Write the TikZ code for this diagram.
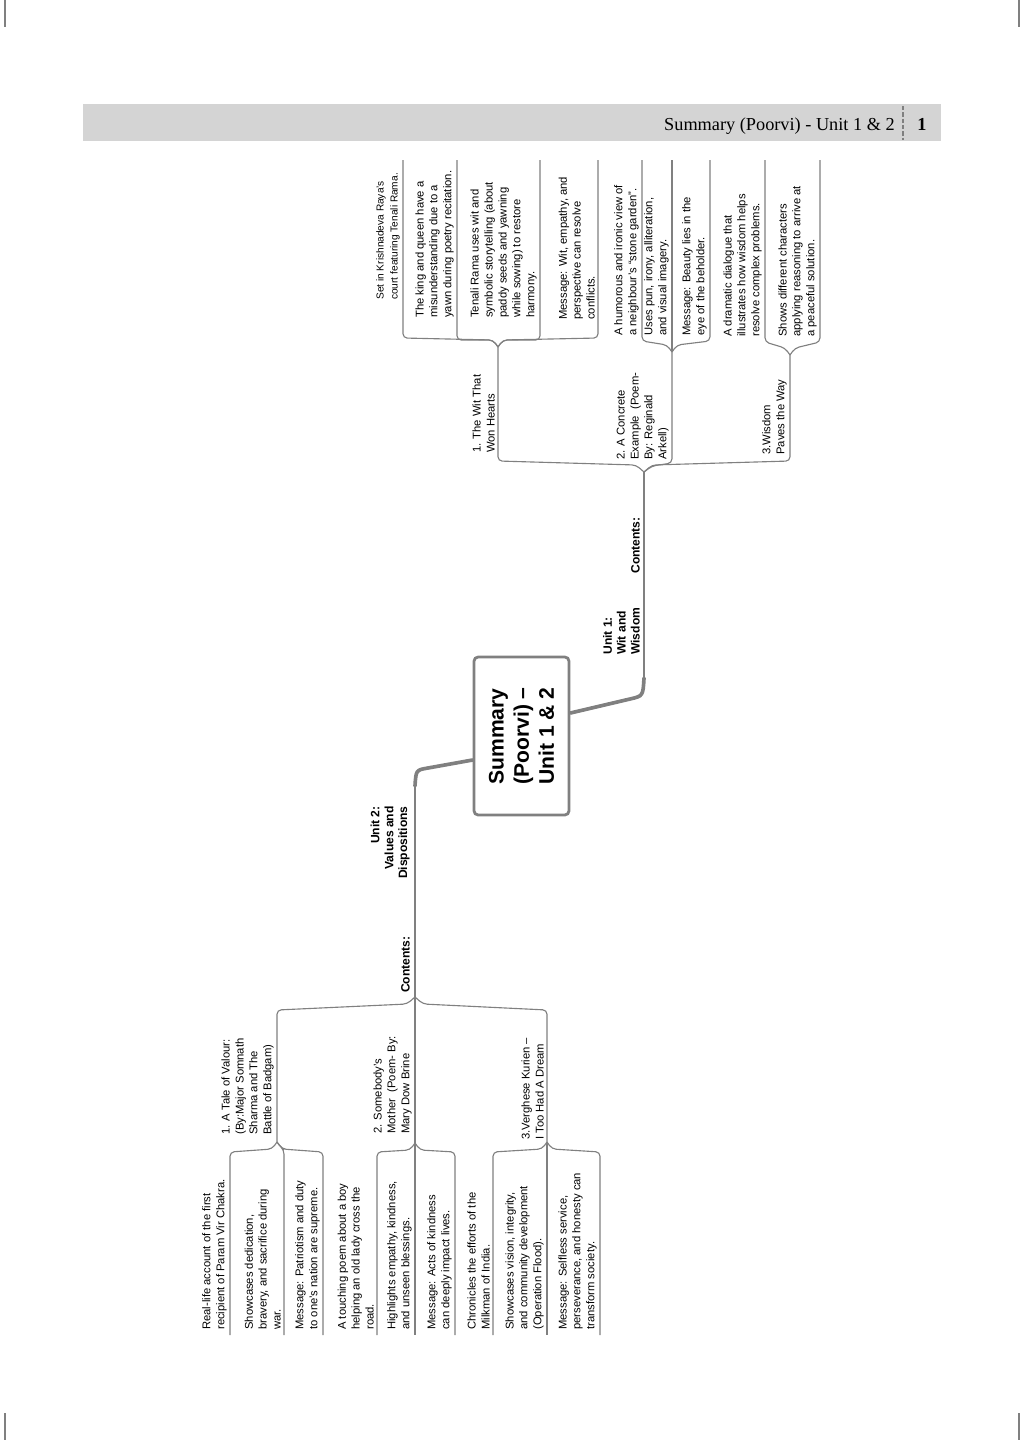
\documentclass[tikz,border=0pt]{standalone}
\usepackage{fontspec}
\setmainfont{Liberation Sans}
\newfontfamily\headserif{Liberation Serif}
\usetikzlibrary{calc}

\definecolor{linegray}{HTML}{808080}
\definecolor{headgray}{HTML}{D4D4D4}

\tikzset{
  leaf/.style={rotate=90,anchor=south west,inner sep=0pt,align=left,
    font=\fontsize{8}{9.9}\selectfont},
  unitlbl/.style={leaf,font=\bfseries\fontsize{8.6}{9.9}\selectfont},
  branch/.style={draw=linegray,line width=0.8pt,rounded corners=3pt},
  trunk/.style={draw=linegray,line width=2.6pt,line cap=round},
  rootbox/.style={rotate=90,draw=linegray,line width=2pt,rounded corners=3pt,
    minimum width=3.95cm,minimum height=2.375cm,align=left,
    font=\bfseries\fontsize{15}{17.8}\selectfont},
  cropline/.style={draw=linegray,line width=1pt}
}

\begin{document}
\begin{tikzpicture}
[x=0.025cm,y=-0.025cm]
\useasboundingbox (0,0) rectangle (1024,1440);

% crop marks
\draw[cropline] (5,0) -- (5,27);
\draw[cropline] (1019,0) -- (1019,27);
\draw[cropline] (5,1413) -- (5,1440);
\draw[cropline] (1019,1413) -- (1019,1440);

% running head
\fill[headgray] (83,104) rectangle (941,141);
\node[anchor=base east,inner sep=0pt,font=\headserif\fontsize{13}{15}\selectfont]
  (htitle) at (895,130) {Summary (Poorvi) - Unit 1 \& 2};
\draw[linegray,line width=1pt,dash pattern=on 3pt off 1.5pt] (903,106) -- (903,140);
\node[anchor=base,inner sep=0pt,font=\headserif\bfseries\fontsize{13}{15}\selectfont]
  (hpage) at (922,130) {1};

% centre
\node[rootbox] (root) at (521.5,736) {Summary\\(Poorvi) --\\Unit 1 \& 2};

% Unit 1
\coordinate (c1) at (644,472);
\draw[trunk] ($(root.south)+(0,-23)$) -- (630,699) .. controls (643,696) .. (644,678);
\draw[branch] (644,682) -- (c1);
\node[unitlbl] (u1lbl) at (640,655) {Unit 1:\\Wit and\\Wisdom};
\node[unitlbl] (u1cont) at (640,574) {Contents:};

\coordinate (fwit) at (498,347);
\coordinate (fcon) at (672,352);
\coordinate (fwis) at (790,355);
\draw[branch] (c1) -- ++(-8,-7) -- (498,461) -- (fwit);
\draw[branch] (c1) -- (652,466) -- (672,463) -- (fcon);
\draw[branch] (c1) -- ++(8,-7) -- (790,461) -- (fwis);

\node[leaf] (wit) at (495,453) {1. The Wit That\\Won Hearts};
\node[leaf] (concrete) at (669,460) {2. A Concrete\\Example\ \ (Poem-\\By: Reginald\\Arkell)};
\node[leaf] (wisdom) at (787,455) {3.Wisdom\\Paves the Way};

\draw[branch] (fwit) -- ++(-5,-7) -- (403,338) -- (403,160);
\draw[branch] (fwit) -- ++(-5,-7) -- (457,340) -- (457,160);
\draw[branch] (fwit) -- ++(5,-7) -- (540,340) -- (540,160);
\draw[branch] (fwit) -- ++(5,-7) -- (598,338) -- (598,160);
\node[leaf,font=\fontsize{7.2}{9.9}\selectfont] (witA) at (400,300) {Set in Krishnadeva Raya’s\\court featuring Tenali Rama.};
\node[leaf] (witB) at (454,318) {The king and queen have a\\misunderstanding due to a\\yawn during poetry recitation.};
\node[leaf] (witC) at (537,318) {Tenali Rama uses wit and\\symbolic storytelling (about\\paddy seeds and yawning\\while sowing) to restore\\harmony.};
\node[leaf] (witD) at (595,320) {Message: Wit, empathy, and\\perspective can resolve\\conflicts.};

\draw[branch] (fcon) -- ++(-5,-7) -- (642,341) -- (642,160);
\draw[branch] (fcon) -- (672,160);
\draw[branch] (fcon) -- ++(5,-7) -- (710,341) -- (710,160);
\node[leaf] (conA) at (639,336) {A humorous and ironic view of\\a neighbour’s “stone garden”.};
\node[leaf] (conB) at (669,336) {Uses pun, irony, alliteration,\\and visual imagery.};
\node[leaf] (conC) at (707,336) {Message: Beauty lies in the\\eye of the beholder.};

\draw[branch] (fwis) -- ++(-5,-7) -- (765,342) -- (765,160);
\draw[branch] (fwis) -- ++(5,-7) -- (820,342) -- (820,160);
\node[leaf] (wisA) at (762,337) {A dramatic dialogue that\\illustrates how wisdom helps\\resolve complex problems.};
\node[leaf] (wisB) at (817,337) {Shows different characters\\applying reasoning to arrive at\\a peaceful solution.};

% Unit 2
\coordinate (c2) at (415,997);
\draw[trunk] ($(root.north)+(0,24)$) -- (428,768) .. controls (416,770) .. (415,786);
\draw[branch] (415,782) -- (c2);
\node[unitlbl,anchor=south east,align=right] (u2lbl) at (410,806) {Unit 2:\\Values and\\Dispositions};
\node[unitlbl] (u2cont) at (410,993) {Contents:};

\coordinate (fval) at (277,1142);
\coordinate (fmot) at (415,1143);
\coordinate (fkur) at (547,1142);
\draw[branch] (c2) -- ++(-8,7) -- (277,1010) -- (fval);
\draw[branch] (c2) -- (fmot);
\draw[branch] (c2) -- ++(8,7) -- (547,1010) -- (fkur);

\node[leaf] (valour) at (274,1135) {1. A Tale of Valour:\\(By:Major Somnath\\Sharma and The\\Battle of Badgam)};
\node[leaf] (mother) at (412,1134) {2. Somebody’s\\Mother\ \ (Poem- By:\\Mary Dow Brine};
\node[leaf] (kurien) at (544,1140) {3.Verghese Kurien --\\I Too Had A Dream};

\draw[branch] (fval) -- ++(-5,7) -- (230,1152) -- (230,1335);
\draw[branch] (fval) -- (281,1147) -- (284,1150) -- (284,1335);
\draw[branch] (fval) -- ++(5,7) -- (323,1152) -- (323,1335);
\node[leaf] (valA) at (227,1330) {Real-life account of the first\\recipient of Param Vir Chakra.};
\node[leaf] (valB) at (281,1330) {Showcases dedication,\\bravery, and sacrifice during\\war.};
\node[leaf] (valC) at (320,1330) {Message: Patriotism and duty\\to one’s nation are supreme.};

\draw[branch] (fmot) -- ++(-5,7) -- (377,1152) -- (377,1335);
\draw[branch] (fmot) -- (415,1335);
\draw[branch] (fmot) -- ++(5,7) -- (455,1152) -- (455,1335);
\node[leaf] (motA) at (374,1330) {A touching poem about a boy\\helping an old lady cross the\\road.};
\node[leaf] (motB) at (412,1330) {Highlights empathy, kindness,\\and unseen blessings.};
\node[leaf] (motC) at (452,1330) {Message: Acts of kindness\\can deeply impact lives.};

\draw[branch] (fkur) -- ++(-5,7) -- (493,1152) -- (493,1335);
\draw[branch] (fkur) -- (547,1335);
\draw[branch] (fkur) -- ++(5,7) -- (600,1152) -- (600,1335);
\node[leaf] (kurA) at (490,1330) {Chronicles the efforts of the\\Milkman of India.};
\node[leaf] (kurB) at (544,1330) {Showcases vision, integrity,\\and community development\\(Operation Flood).};
\node[leaf] (kurC) at (597,1330) {Message: Selfless service,\\perseverance, and honesty can\\transform society.};
\end{tikzpicture}
\end{document}
